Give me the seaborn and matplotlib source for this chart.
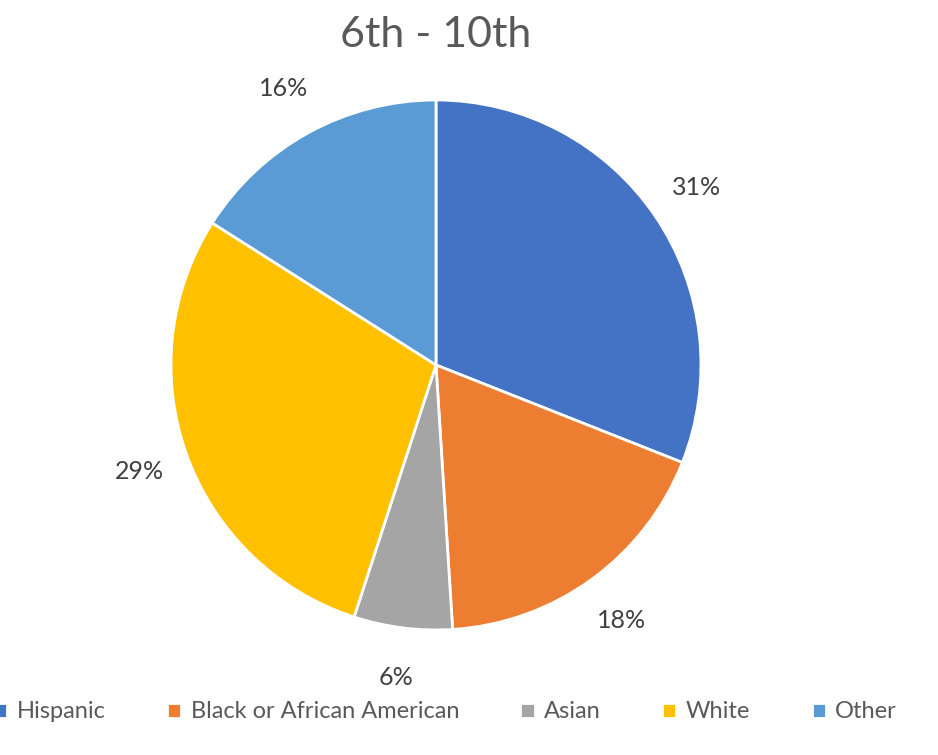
import matplotlib
matplotlib.use("Agg")
import matplotlib.pyplot as plt
import seaborn as sns

# Data
groups = ["Hispanic", "Black or African American", "Asian", "White", "Other"]
shares = [31, 18, 6, 29, 16]
colors = ["#4472C4", "#ED7D31", "#A5A5A5", "#FFC000", "#5B9BD5"]

sns.set_theme(style="white")
plt.rcParams["font.family"] = ["Lato", "DejaVu Sans"]

fig = plt.figure(figsize=(9.38, 7.55), dpi=100)
ax = fig.add_axes([0.1823, 0.1656, 0.565, 0.702])

wedges, texts, autotexts = ax.pie(
    shares,
    colors=colors,
    startangle=90,
    counterclock=False,
    autopct="%d%%",
    pctdistance=1.19,
    wedgeprops=dict(edgecolor="white", linewidth=2),
    textprops=dict(fontsize=18, color="#404040"),
)
ax.set_xlim(-1, 1)
ax.set_ylim(-1, 1)
ax.set_aspect("equal")

fig.text(0.465, 0.953, "6th - 10th", ha="center", va="center",
         fontsize=31, color="#595959")

leg = fig.legend(
    wedges, groups, loc="center left", bbox_to_anchor=(-0.03, 0.057),
    ncol=5, frameon=False, fontsize=17, handlelength=0.6, handleheight=0.6,
    handletextpad=0.4, columnspacing=2.6,
)
for t in leg.get_texts():
    t.set_color("#595959")

fig.savefig("out.png", dpi=100)
